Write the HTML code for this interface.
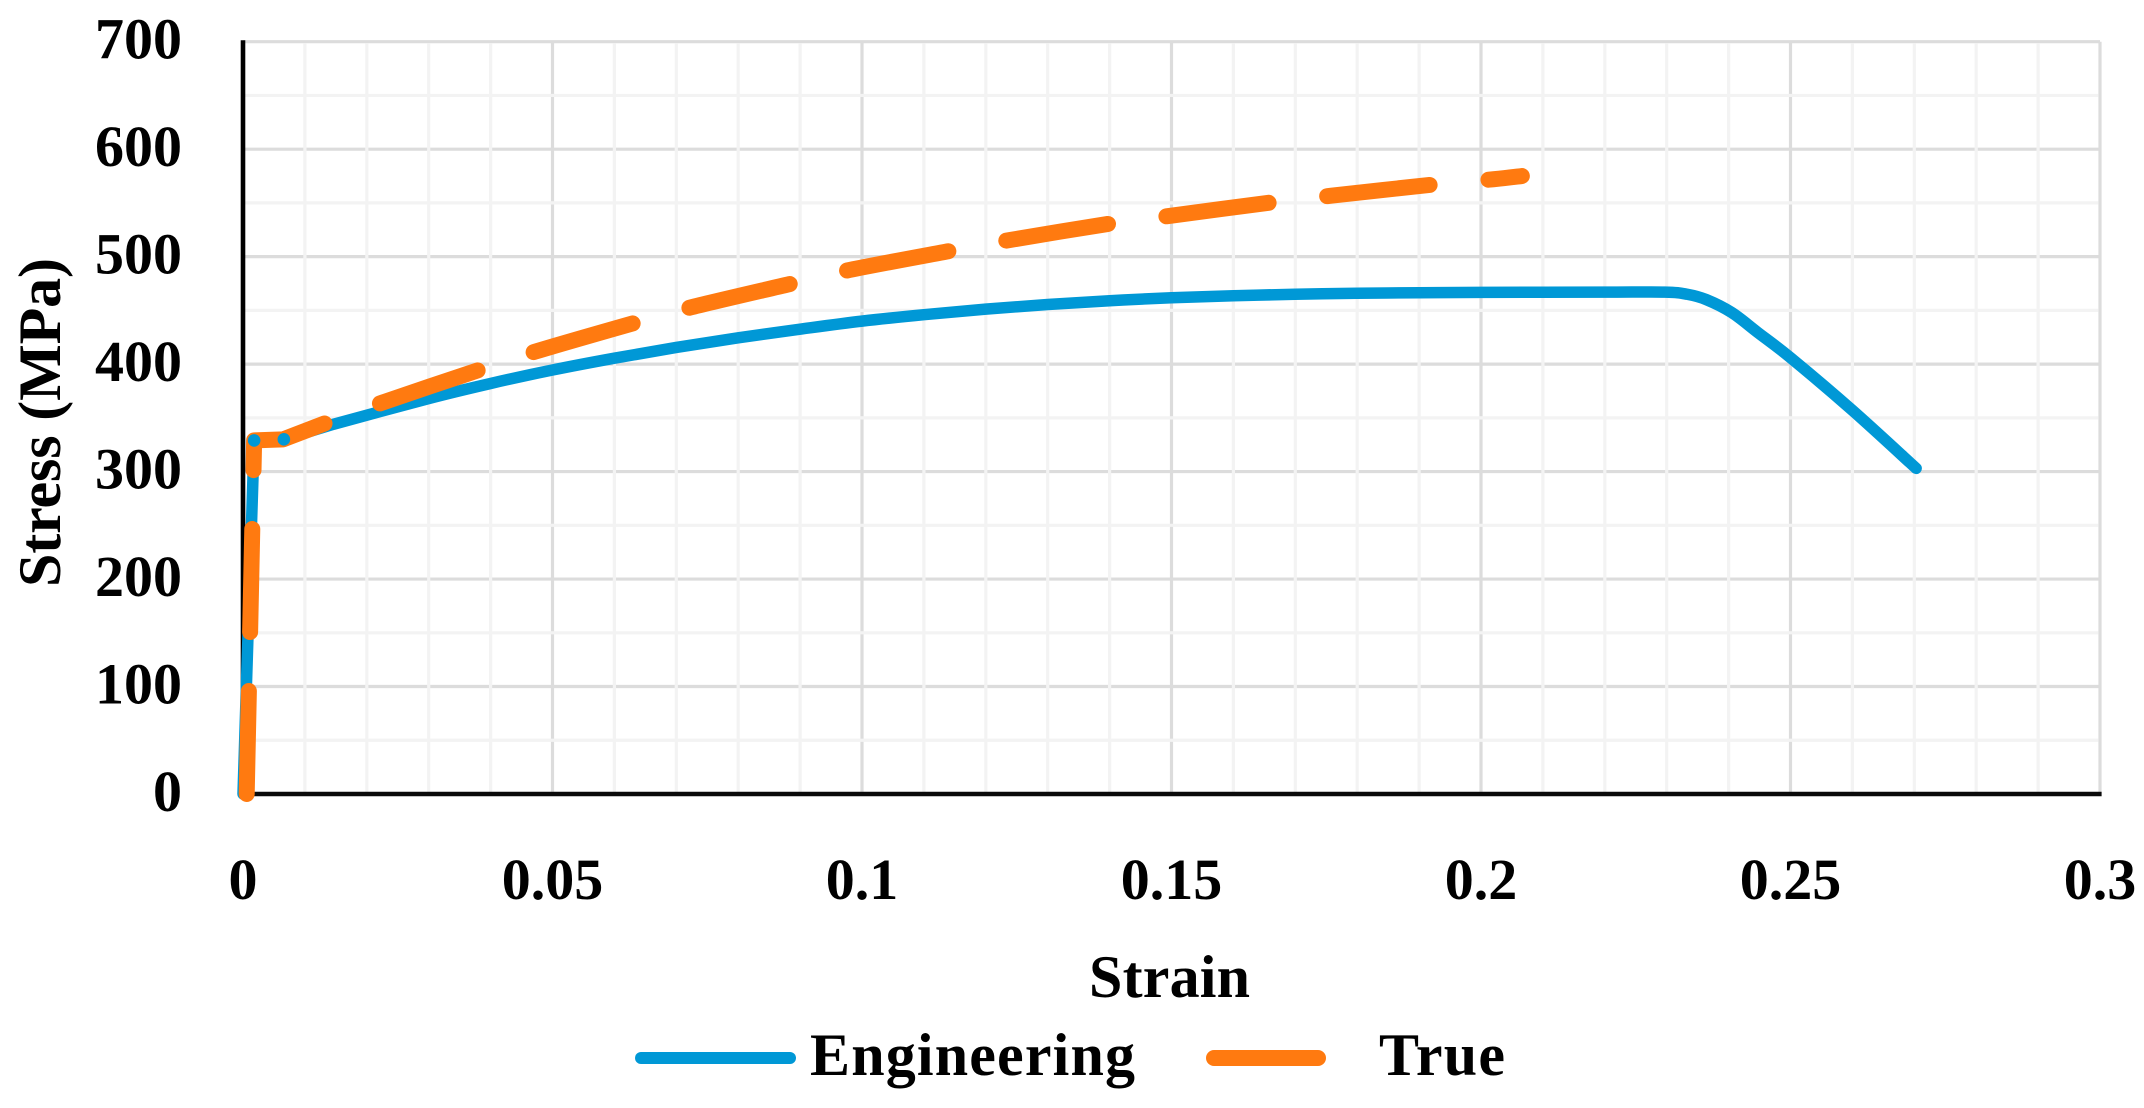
<!DOCTYPE html>
<html lang="en">
<head>
<meta charset="utf-8">
<title>Stress-strain chart</title>
<style>
  html, body { margin: 0; padding: 0; background: #ffffff; }
  svg { display: block; }
  text { font-family: "Liberation Serif", "DejaVu Serif", serif; font-weight: 700; font-size: 58px; fill: #000000; }
  .title-text { font-size: 60px; }
</style>
</head>
<body>
<svg id="chart" xmlns="http://www.w3.org/2000/svg" width="2144" height="1108" viewBox="0 0 2144 1108">
  <rect x="0" y="0" width="2144" height="1108" fill="#ffffff"/>
  <g id="grid"></g>
  <g id="axes"></g>
  <g id="series"></g>
  <g id="ticks"></g>
  <text class="title-text" transform="translate(60,587) rotate(-90)" textLength="329" lengthAdjust="spacing" xml:space="preserve">Stress (MPa)</text>
  <text class="title-text" x="1089" y="997" textLength="161" lengthAdjust="spacing">Strain</text>
  <g>
    <line x1="641" y1="1058" x2="790" y2="1058" stroke="#0098d6" stroke-width="12" stroke-linecap="round"/>
    <text class="title-text" x="810" y="1075" textLength="325" lengthAdjust="spacing">Engineering</text>
    <line x1="1214" y1="1058" x2="1318" y2="1058" stroke="#ff7a10" stroke-width="16" stroke-linecap="round"/>
    <text class="title-text" x="1379" y="1075" textLength="126" lengthAdjust="spacing">True</text>
  </g>
</svg>
<script>
const xTickLabels = ['0', '0.05', '0.1', '0.15', '0.2', '0.25', '0.3'];
const yTickLabels = ['0', '100', '200', '300', '400', '500', '600', '700'];
const engineeringStrain = [0, 0.0018, 0.0066, 0.0146, 0.03, 0.04, 0.05, 0.06, 0.07, 0.08, 0.09, 0.1, 0.11, 0.12, 0.13, 0.14, 0.15, 0.16, 0.17, 0.18, 0.19, 0.2, 0.22, 0.2297, 0.2333, 0.2364, 0.2405, 0.2447, 0.25, 0.26, 0.2703];
const engineeringStress = [0, 329, 330, 344, 368, 382, 394.5, 405.5, 415.5, 424.5, 432.5, 440, 446, 451.2, 455.5, 459, 461.8, 463.6, 465, 465.9, 466.4, 466.8, 467, 467, 465, 460, 448, 429.5, 406, 357, 303];
const trueStrain = [0.0006, 0.0018, 0.0065, 0.0133, 0.0224, 0.0381, 0.0472, 0.0634, 0.0725, 0.0887, 0.098, 0.1144, 0.1239, 0.1404, 0.1498, 0.1664, 0.1758, 0.1927, 0.202, 0.2066];
const trueStress = [0, 329, 330, 345, 364, 394.5, 411.6, 438.6, 453, 475, 487.6, 505.5, 515.5, 531, 538, 550.6, 556.7, 567.3, 572, 575];
const engineeringKnotIndexes = [1, 2];

const NS = 'http://www.w3.org/2000/svg';
const plot = { left: 243, right: 2100, top: 41.7, bottom: 794 };
const xMax = 0.3;
const yMax = 700;
const xScale = v => plot.left + (v / xMax) * (plot.right - plot.left);
const yScale = v => plot.bottom - (v / yMax) * (plot.bottom - plot.top);

function make(tag, attrs, parent) {
  const el = document.createElementNS(NS, tag);
  Object.keys(attrs).forEach(k => el.setAttribute(k, attrs[k]));
  parent.appendChild(el);
  return el;
}

const gridG = document.getElementById('grid');
const axesG = document.getElementById('axes');
const seriesG = document.getElementById('series');
const ticksG = document.getElementById('ticks');

function gridLine(x1, y1, x2, y2, color, name) {
  const el = make('line', { x1, y1, x2, y2, stroke: color, 'stroke-width': 3.2 }, gridG);
  
  
}

const MAJOR = '#dcdcdc';
const MINOR = '#f3f3f3';

yTickLabels.forEach(t => {
  const v = parseFloat(t);
  if (v > 0) gridLine(plot.left, yScale(v), plot.right, yScale(v), MAJOR, 'y-major-gridline-' + t);
});
xTickLabels.forEach(t => {
  const v = parseFloat(t);
  if (v > 0) gridLine(xScale(v), plot.top, xScale(v), plot.bottom, MAJOR, 'x-major-gridline-' + t);
});
for (let i = 1; i < 30; i++) {
  if (i % 5 !== 0) gridLine(xScale(i / 100), plot.top + 1.6, xScale(i / 100), plot.bottom, MINOR, 'x-minor-gridline');
}
for (let i = 0; i < 7; i++) {
  gridLine(plot.left, yScale(50 + i * 100), plot.right - 1.6, yScale(50 + i * 100), MINOR, 'y-minor-gridline');
}

const yAxis = make('line', { x1: plot.left, y1: plot.top - 1.5, x2: plot.left, y2: plot.bottom + 2, stroke: '#000000', 'stroke-width': 4.6 }, axesG);


const xAxis = make('line', { x1: plot.left, y1: plot.bottom, x2: plot.right + 1.6, y2: plot.bottom, stroke: '#0a0a0a', 'stroke-width': 4.6 }, axesG);



// Straight through the sharp yield corner, then a Catmull-Rom curve through the hardening points.
function smoothPath(xs, ys, cornerIndex) {
  const pts = xs.map((x, i) => [xScale(x), yScale(ys[i])]);
  let d = 'M' + pts[0][0].toFixed(2) + ' ' + pts[0][1].toFixed(2);
  for (let i = 1; i < pts.length; i++) {
    const p1 = pts[i - 1];
    const p2 = pts[i];
    if (i <= cornerIndex + 1) {
      d += ' L' + p2[0].toFixed(2) + ' ' + p2[1].toFixed(2);
      continue;
    }
    const p0 = i - 2 > cornerIndex ? pts[i - 2] : p1;
    const p3 = pts[i + 1] || p2;
    const c1x = p1[0] + (p2[0] - p0[0]) / 6;
    const c1y = p1[1] + (p2[1] - p0[1]) / 6;
    const c2x = p2[0] - (p3[0] - p1[0]) / 6;
    const c2y = p2[1] - (p3[1] - p1[1]) / 6;
    d += ' C' + c1x.toFixed(2) + ' ' + c1y.toFixed(2) + ' ' + c2x.toFixed(2) + ' ' + c2y.toFixed(2) + ' ' + p2[0].toFixed(2) + ' ' + p2[1].toFixed(2);
  }
  return d;
}

const engineeringLine = make('path', {
  d: smoothPath(engineeringStrain, engineeringStress, 2),
  fill: 'none', stroke: '#0098d6', 'stroke-width': 11.5,
  'stroke-linecap': 'round', 'stroke-linejoin': 'round'
}, seriesG);



const trueLine = make('path', {
  d: smoothPath(trueStrain, trueStress, 2),
  fill: 'none', stroke: '#ff7a10', 'stroke-width': 16,
  'stroke-linecap': 'round', 'stroke-linejoin': 'round',
  'stroke-dasharray': '103 59'
}, seriesG);



engineeringKnotIndexes.forEach(i => {
  const dot = make('circle', {
    cx: xScale(engineeringStrain[i]), cy: yScale(engineeringStress[i]), r: 6.3, fill: '#0098d6'
  }, seriesG);
  
  
});

xTickLabels.forEach(t => {
  const label = make('text', { x: xScale(parseFloat(t)), y: 899, 'text-anchor': 'middle' }, ticksG);
  label.textContent = t;
  
  
});
yTickLabels.forEach(t => {
  const label = make('text', { x: 182, y: yScale(parseFloat(t)) + 17, 'text-anchor': 'end' }, ticksG);
  label.textContent = t;
  
  
});
</script>
</body>
</html>
